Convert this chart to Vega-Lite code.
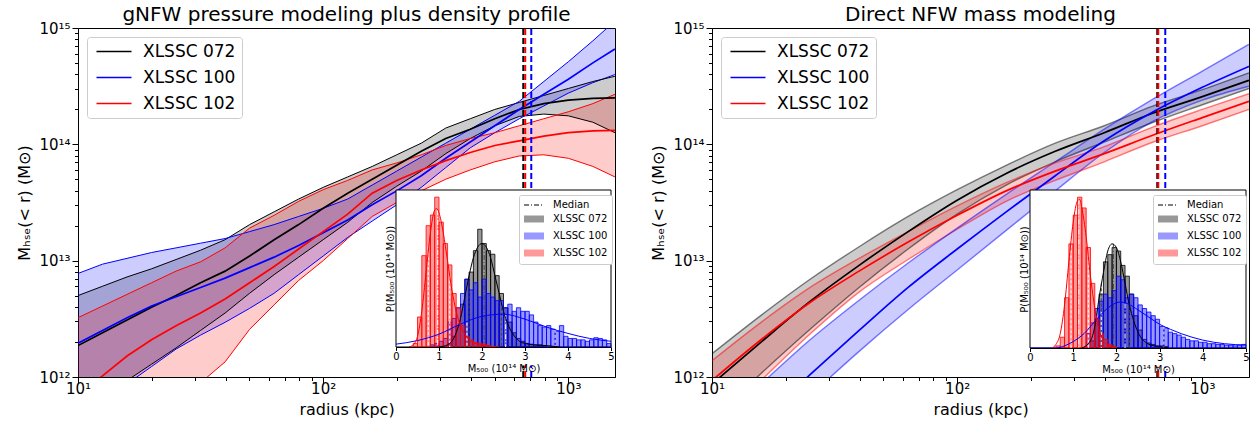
{
"$schema": "https://vega.github.io/schema/vega-lite/v6.json",
"background": "white",
"padding": {"left": 16, "right": 4, "top": 4, "bottom": 2},
"spacing": 34,
"config": {
 "font": "DejaVu Sans",
 "view": {"stroke": "black", "strokeWidth": 1},
 "axis": {"labelFont": "DejaVu Sans", "titleFont": "DejaVu Sans", "labelColor": "black", "titleColor": "black", "tickColor": "black", "domainColor": "black", "titleFontWeight": "normal", "grid": false},
 "legend": {"labelFont": "DejaVu Sans", "titleFont": "DejaVu Sans"},
 "title": {"font": "DejaVu Sans", "fontWeight": "normal", "color": "black"}
},
"datasets": {
 "gnfw": [
  {"c":"XLSSC 072","r":10,"lo":4.786e11,"m":1.862e12,"hi":5.012e12},
  {"c":"XLSSC 072","r":12.59,"lo":6.607e11,"m":2.399e12,"hi":6.026e12},
  {"c":"XLSSC 072","r":15.85,"lo":9.333e11,"m":3.090e12,"hi":7.244e12},
  {"c":"XLSSC 072","r":19.95,"lo":1.288e12,"m":3.981e12,"hi":8.511e12},
  {"c":"XLSSC 072","r":25.12,"lo":1.778e12,"m":5.012e12,"hi":1.023e13},
  {"c":"XLSSC 072","r":31.62,"lo":2.512e12,"m":6.457e12,"hi":1.230e13},
  {"c":"XLSSC 072","r":39.81,"lo":3.548e12,"m":8.128e12,"hi":1.514e13},
  {"c":"XLSSC 072","r":50.12,"lo":5.248e12,"m":1.096e13,"hi":2.042e13},
  {"c":"XLSSC 072","r":63.1,"lo":7.586e12,"m":1.514e13,"hi":2.630e13},
  {"c":"XLSSC 072","r":79.43,"lo":1.072e13,"m":2.042e13,"hi":3.388e13},
  {"c":"XLSSC 072","r":100,"lo":1.514e13,"m":2.818e13,"hi":4.266e13},
  {"c":"XLSSC 072","r":125.9,"lo":2.138e13,"m":3.802e13,"hi":5.248e13},
  {"c":"XLSSC 072","r":158.5,"lo":3.162e13,"m":5.012e13,"hi":6.457e13},
  {"c":"XLSSC 072","r":199.5,"lo":4.365e13,"m":6.607e13,"hi":8.128e13},
  {"c":"XLSSC 072","r":251.2,"lo":5.888e13,"m":8.710e13,"hi":1.023e14},
  {"c":"XLSSC 072","r":316.2,"lo":8.318e13,"m":1.122e14,"hi":1.380e14},
  {"c":"XLSSC 072","r":398.1,"lo":1.122e14,"m":1.349e14,"hi":1.660e14},
  {"c":"XLSSC 072","r":501.2,"lo":1.445e14,"m":1.660e14,"hi":1.995e14},
  {"c":"XLSSC 072","r":631,"lo":1.738e14,"m":1.995e14,"hi":2.291e14},
  {"c":"XLSSC 072","r":794.3,"lo":1.820e14,"m":2.239e14,"hi":2.630e14},
  {"c":"XLSSC 072","r":1000,"lo":1.758e14,"m":2.399e14,"hi":3.020e14},
  {"c":"XLSSC 072","r":1259,"lo":1.549e14,"m":2.483e14,"hi":3.467e14},
  {"c":"XLSSC 072","r":1549,"lo":1.259e14,"m":2.512e14,"hi":3.846e14},
  {"c":"XLSSC 100","r":10,"lo":4.169e11,"m":1.950e12,"hi":7.762e12},
  {"c":"XLSSC 100","r":12.59,"lo":6.026e11,"m":2.512e12,"hi":9.333e12},
  {"c":"XLSSC 100","r":15.85,"lo":8.710e11,"m":3.236e12,"hi":1.047e13},
  {"c":"XLSSC 100","r":19.95,"lo":1.230e12,"m":4.074e12,"hi":1.175e13},
  {"c":"XLSSC 100","r":25.12,"lo":1.738e12,"m":4.898e12,"hi":1.288e13},
  {"c":"XLSSC 100","r":31.62,"lo":2.291e12,"m":5.888e12,"hi":1.413e13},
  {"c":"XLSSC 100","r":39.81,"lo":2.951e12,"m":7.079e12,"hi":1.549e13},
  {"c":"XLSSC 100","r":50.12,"lo":3.890e12,"m":8.710e12,"hi":1.778e13},
  {"c":"XLSSC 100","r":63.1,"lo":5.248e12,"m":1.072e13,"hi":2.042e13},
  {"c":"XLSSC 100","r":79.43,"lo":7.586e12,"m":1.349e13,"hi":2.399e13},
  {"c":"XLSSC 100","r":100,"lo":1.096e13,"m":1.738e13,"hi":2.818e13},
  {"c":"XLSSC 100","r":125.9,"lo":1.585e13,"m":2.239e13,"hi":3.388e13},
  {"c":"XLSSC 100","r":158.5,"lo":2.188e13,"m":3.020e13,"hi":4.467e13},
  {"c":"XLSSC 100","r":199.5,"lo":3.020e13,"m":3.981e13,"hi":5.888e13},
  {"c":"XLSSC 100","r":251.2,"lo":4.266e13,"m":5.370e13,"hi":7.762e13},
  {"c":"XLSSC 100","r":316.2,"lo":6.310e13,"m":7.586e13,"hi":1.023e14},
  {"c":"XLSSC 100","r":398.1,"lo":9.333e13,"m":1.047e14,"hi":1.349e14},
  {"c":"XLSSC 100","r":501.2,"lo":1.259e14,"m":1.445e14,"hi":1.778e14},
  {"c":"XLSSC 100","r":631,"lo":1.660e14,"m":1.995e14,"hi":2.344e14},
  {"c":"XLSSC 100","r":794.3,"lo":2.138e14,"m":2.692e14,"hi":3.467e14},
  {"c":"XLSSC 100","r":1000,"lo":2.754e14,"m":3.631e14,"hi":5.129e14},
  {"c":"XLSSC 100","r":1259,"lo":3.388e14,"m":5.012e14,"hi":7.762e14},
  {"c":"XLSSC 100","r":1549,"lo":3.981e14,"m":6.607e14,"hi":1.148e15},
  {"c":"XLSSC 102","r":10,"lo":7.943e10,"m":7.244e11,"hi":3.236e12},
  {"c":"XLSSC 102","r":12.59,"lo":1.259e11,"m":1.023e12,"hi":4.074e12},
  {"c":"XLSSC 102","r":15.85,"lo":1.995e11,"m":1.514e12,"hi":5.129e12},
  {"c":"XLSSC 102","r":19.95,"lo":3.162e11,"m":2.089e12,"hi":6.457e12},
  {"c":"XLSSC 102","r":25.12,"lo":5.248e11,"m":2.754e12,"hi":8.128e12},
  {"c":"XLSSC 102","r":31.62,"lo":8.913e11,"m":3.548e12,"hi":9.772e12},
  {"c":"XLSSC 102","r":39.81,"lo":1.349e12,"m":4.677e12,"hi":1.288e13},
  {"c":"XLSSC 102","r":50.12,"lo":2.570e12,"m":6.457e12,"hi":1.905e13},
  {"c":"XLSSC 102","r":63.1,"lo":4.169e12,"m":8.913e12,"hi":2.455e13},
  {"c":"XLSSC 102","r":79.43,"lo":6.761e12,"m":1.259e13,"hi":3.236e13},
  {"c":"XLSSC 102","r":100,"lo":1.000e13,"m":1.778e13,"hi":4.074e13},
  {"c":"XLSSC 102","r":125.9,"lo":1.549e13,"m":2.512e13,"hi":4.898e13},
  {"c":"XLSSC 102","r":158.5,"lo":2.399e13,"m":3.802e13,"hi":6.026e13},
  {"c":"XLSSC 102","r":199.5,"lo":3.162e13,"m":4.898e13,"hi":6.918e13},
  {"c":"XLSSC 102","r":251.2,"lo":3.981e13,"m":6.026e13,"hi":8.128e13},
  {"c":"XLSSC 102","r":316.2,"lo":5.012e13,"m":7.244e13,"hi":9.772e13},
  {"c":"XLSSC 102","r":398.1,"lo":6.026e13,"m":8.511e13,"hi":1.122e14},
  {"c":"XLSSC 102","r":501.2,"lo":7.079e13,"m":9.772e13,"hi":1.259e14},
  {"c":"XLSSC 102","r":631,"lo":7.943e13,"m":1.072e14,"hi":1.445e14},
  {"c":"XLSSC 102","r":794.3,"lo":8.128e13,"m":1.175e14,"hi":1.660e14},
  {"c":"XLSSC 102","r":1000,"lo":7.586e13,"m":1.259e14,"hi":1.905e14},
  {"c":"XLSSC 102","r":1259,"lo":6.457e13,"m":1.303e14,"hi":2.239e14},
  {"c":"XLSSC 102","r":1549,"lo":5.248e13,"m":1.318e14,"hi":2.692e14}
 ],
 "nfw": [
  {"c":"XLSSC 072","r":10,"lo":4.365e11,"m":8.710e11,"hi":1.585e12},
  {"c":"XLSSC 072","r":15.85,"lo":1.072e12,"m":1.995e12,"hi":3.388e12},
  {"c":"XLSSC 072","r":25.12,"lo":2.570e12,"m":4.467e12,"hi":6.918e12},
  {"c":"XLSSC 072","r":39.81,"lo":5.888e12,"m":9.120e12,"hi":1.318e13},
  {"c":"XLSSC 072","r":63.1,"lo":1.259e13,"m":1.778e13,"hi":2.399e13},
  {"c":"XLSSC 072","r":100,"lo":2.512e13,"m":3.311e13,"hi":4.074e13},
  {"c":"XLSSC 072","r":158.5,"lo":4.467e13,"m":5.623e13,"hi":6.607e13},
  {"c":"XLSSC 072","r":251.2,"lo":7.079e13,"m":8.710e13,"hi":1.023e14},
  {"c":"XLSSC 072","r":398.1,"lo":1.047e14,"m":1.259e14,"hi":1.445e14},
  {"c":"XLSSC 072","r":631,"lo":1.549e14,"m":1.862e14,"hi":2.138e14},
  {"c":"XLSSC 072","r":1000,"lo":2.188e14,"m":2.570e14,"hi":2.951e14},
  {"c":"XLSSC 072","r":1549,"lo":3.020e14,"m":3.548e14,"hi":4.121e14},
  {"c":"XLSSC 100","r":10,"lo":1.122e11,"m":1.778e11,"hi":3.631e11},
  {"c":"XLSSC 100","r":15.85,"lo":2.818e11,"m":4.266e11,"hi":8.710e11},
  {"c":"XLSSC 100","r":25.12,"lo":6.918e11,"m":1.047e12,"hi":2.089e12},
  {"c":"XLSSC 100","r":39.81,"lo":1.660e12,"m":2.512e12,"hi":4.571e12},
  {"c":"XLSSC 100","r":63.1,"lo":3.802e12,"m":5.888e12,"hi":9.550e12},
  {"c":"XLSSC 100","r":100,"lo":8.318e12,"m":1.259e13,"hi":1.905e13},
  {"c":"XLSSC 100","r":158.5,"lo":1.820e13,"m":2.630e13,"hi":3.715e13},
  {"c":"XLSSC 100","r":251.2,"lo":3.981e13,"m":5.370e13,"hi":7.079e13},
  {"c":"XLSSC 100","r":398.1,"lo":8.511e13,"m":1.072e14,"hi":1.349e14},
  {"c":"XLSSC 100","r":631,"lo":1.585e14,"m":1.905e14,"hi":2.455e14},
  {"c":"XLSSC 100","r":1000,"lo":2.399e14,"m":3.090e14,"hi":4.266e14},
  {"c":"XLSSC 100","r":1549,"lo":3.162e14,"m":4.677e14,"hi":7.244e14},
  {"c":"XLSSC 102","r":10,"lo":3.548e11,"m":9.333e11,"hi":1.380e12},
  {"c":"XLSSC 102","r":15.85,"lo":9.333e11,"m":2.089e12,"hi":2.951e12},
  {"c":"XLSSC 102","r":25.12,"lo":2.344e12,"m":4.365e12,"hi":5.888e12},
  {"c":"XLSSC 102","r":39.81,"lo":5.370e12,"m":8.128e12,"hi":1.047e13},
  {"c":"XLSSC 102","r":63.1,"lo":1.023e13,"m":1.445e13,"hi":1.778e13},
  {"c":"XLSSC 102","r":100,"lo":1.862e13,"m":2.455e13,"hi":2.951e13},
  {"c":"XLSSC 102","r":158.5,"lo":3.236e13,"m":3.981e13,"hi":4.677e13},
  {"c":"XLSSC 102","r":251.2,"lo":4.898e13,"m":5.888e13,"hi":6.918e13},
  {"c":"XLSSC 102","r":398.1,"lo":7.079e13,"m":8.318e13,"hi":9.550e13},
  {"c":"XLSSC 102","r":631,"lo":1.047e14,"m":1.202e14,"hi":1.413e14},
  {"c":"XLSSC 102","r":1000,"lo":1.445e14,"m":1.698e14,"hi":1.995e14},
  {"c":"XLSSC 102","r":1549,"lo":1.995e14,"m":2.344e14,"hi":2.723e14}
 ],
 "r500L": [
  {"c":"XLSSC 072","r":655,"y":1e12},{"c":"XLSSC 072","r":655,"y":1e15},
  {"c":"XLSSC 102","r":667,"y":1e12},{"c":"XLSSC 102","r":667,"y":1e15},
  {"c":"XLSSC 100","r":706,"y":1e12},{"c":"XLSSC 100","r":706,"y":1e15}
 ],
 "r500R": [
  {"c":"XLSSC 072","r":655,"y":1e12},{"c":"XLSSC 072","r":655,"y":1e15},
  {"c":"XLSSC 102","r":661,"y":1e12},{"c":"XLSSC 102","r":661,"y":1e15},
  {"c":"XLSSC 100","r":706,"y":1e12},{"c":"XLSSC 100","r":706,"y":1e15}
 ],
 "frame": [
  {"a":0,"b":5,"d":2.2}
 ],
 "cover": [
  {"a":0,"b":5,"d":0,"e":-0.26}
 ],
 "histL": [
  {"c":"XLSSC 072","a":1.2,"b":1.3,"d":0.05},{"c":"XLSSC 072","a":1.3,"b":1.4,"d":0.15},{"c":"XLSSC 072","a":1.4,"b":1.5,"d":0.3},{"c":"XLSSC 072","a":1.5,"b":1.6,"d":0.6},{"c":"XLSSC 072","a":1.6,"b":1.7,"d":0.95},{"c":"XLSSC 072","a":1.7,"b":1.8,"d":1.05},{"c":"XLSSC 072","a":1.8,"b":1.9,"d":1.35},{"c":"XLSSC 072","a":1.9,"b":2.0,"d":1.65},{"c":"XLSSC 072","a":2.0,"b":2.1,"d":1.45},{"c":"XLSSC 072","a":2.1,"b":2.2,"d":1.35},{"c":"XLSSC 072","a":2.2,"b":2.3,"d":1.3},{"c":"XLSSC 072","a":2.3,"b":2.4,"d":1.0},{"c":"XLSSC 072","a":2.4,"b":2.5,"d":0.75},{"c":"XLSSC 072","a":2.5,"b":2.6,"d":0.55},{"c":"XLSSC 072","a":2.6,"b":2.7,"d":0.35},{"c":"XLSSC 072","a":2.7,"b":2.8,"d":0.2},{"c":"XLSSC 072","a":2.8,"b":2.9,"d":0.12},{"c":"XLSSC 072","a":2.9,"b":3.0,"d":0.08},{"c":"XLSSC 072","a":3.0,"b":3.1,"d":0.05},{"c":"XLSSC 072","a":3.1,"b":3.2,"d":0.04},{"c":"XLSSC 072","a":3.2,"b":3.3,"d":0.03},{"c":"XLSSC 072","a":3.3,"b":3.4,"d":0.03},{"c":"XLSSC 072","a":3.4,"b":3.5,"d":0.02},
  {"c":"XLSSC 100","a":0.8,"b":0.9,"d":0.03},{"c":"XLSSC 100","a":0.9,"b":1.0,"d":0.05},{"c":"XLSSC 100","a":1.0,"b":1.1,"d":0.08},{"c":"XLSSC 100","a":1.1,"b":1.2,"d":0.12},{"c":"XLSSC 100","a":1.2,"b":1.3,"d":0.35},{"c":"XLSSC 100","a":1.3,"b":1.4,"d":0.4},{"c":"XLSSC 100","a":1.4,"b":1.5,"d":0.55},{"c":"XLSSC 100","a":1.5,"b":1.6,"d":0.75},{"c":"XLSSC 100","a":1.6,"b":1.7,"d":0.95},{"c":"XLSSC 100","a":1.7,"b":1.8,"d":0.8},{"c":"XLSSC 100","a":1.8,"b":1.9,"d":0.9},{"c":"XLSSC 100","a":1.9,"b":2.0,"d":0.7},{"c":"XLSSC 100","a":2.0,"b":2.1,"d":0.95},{"c":"XLSSC 100","a":2.1,"b":2.2,"d":0.75},{"c":"XLSSC 100","a":2.2,"b":2.3,"d":0.7},{"c":"XLSSC 100","a":2.3,"b":2.4,"d":0.65},{"c":"XLSSC 100","a":2.4,"b":2.5,"d":0.65},{"c":"XLSSC 100","a":2.5,"b":2.6,"d":0.55},{"c":"XLSSC 100","a":2.6,"b":2.7,"d":0.6},{"c":"XLSSC 100","a":2.7,"b":2.8,"d":0.5},{"c":"XLSSC 100","a":2.8,"b":2.9,"d":0.55},{"c":"XLSSC 100","a":2.9,"b":3.0,"d":0.5},{"c":"XLSSC 100","a":3.0,"b":3.1,"d":0.5},{"c":"XLSSC 100","a":3.1,"b":3.2,"d":0.45},{"c":"XLSSC 100","a":3.2,"b":3.3,"d":0.35},{"c":"XLSSC 100","a":3.3,"b":3.4,"d":0.3},{"c":"XLSSC 100","a":3.4,"b":3.5,"d":0.28},{"c":"XLSSC 100","a":3.5,"b":3.6,"d":0.3},{"c":"XLSSC 100","a":3.6,"b":3.7,"d":0.25},{"c":"XLSSC 100","a":3.7,"b":3.8,"d":0.22},{"c":"XLSSC 100","a":3.8,"b":3.9,"d":0.3},{"c":"XLSSC 100","a":3.9,"b":4.0,"d":0.15},{"c":"XLSSC 100","a":4.0,"b":4.1,"d":0.12},{"c":"XLSSC 100","a":4.1,"b":4.2,"d":0.12},{"c":"XLSSC 100","a":4.2,"b":4.3,"d":0.1},{"c":"XLSSC 100","a":4.3,"b":4.4,"d":0.1},{"c":"XLSSC 100","a":4.4,"b":4.5,"d":0.08},{"c":"XLSSC 100","a":4.5,"b":4.6,"d":0.1},{"c":"XLSSC 100","a":4.6,"b":4.7,"d":0.13},{"c":"XLSSC 100","a":4.7,"b":4.8,"d":0.12},{"c":"XLSSC 100","a":4.8,"b":4.9,"d":0.1},{"c":"XLSSC 100","a":4.9,"b":5.0,"d":0.05},
  {"c":"XLSSC 102","a":0.4,"b":0.5,"d":0.05},{"c":"XLSSC 102","a":0.5,"b":0.6,"d":0.42},{"c":"XLSSC 102","a":0.6,"b":0.7,"d":1.28},{"c":"XLSSC 102","a":0.7,"b":0.8,"d":1.7},{"c":"XLSSC 102","a":0.8,"b":0.9,"d":1.85},{"c":"XLSSC 102","a":0.9,"b":1.0,"d":2.1},{"c":"XLSSC 102","a":1.0,"b":1.1,"d":1.75},{"c":"XLSSC 102","a":1.1,"b":1.2,"d":1.45},{"c":"XLSSC 102","a":1.2,"b":1.3,"d":1.15},{"c":"XLSSC 102","a":1.3,"b":1.4,"d":0.75},{"c":"XLSSC 102","a":1.4,"b":1.5,"d":0.55},{"c":"XLSSC 102","a":1.5,"b":1.6,"d":0.3},{"c":"XLSSC 102","a":1.6,"b":1.7,"d":0.15},{"c":"XLSSC 102","a":1.7,"b":1.8,"d":0.1},{"c":"XLSSC 102","a":1.8,"b":1.9,"d":0.06},{"c":"XLSSC 102","a":1.9,"b":2.0,"d":0.05},{"c":"XLSSC 102","a":2.0,"b":2.1,"d":0.04},{"c":"XLSSC 102","a":2.1,"b":2.2,"d":0.02}
 ],
 "histR": [
  {"c":"XLSSC 072","a":1.4,"b":1.5,"d":0.1},{"c":"XLSSC 072","a":1.5,"b":1.6,"d":0.4},{"c":"XLSSC 072","a":1.6,"b":1.7,"d":0.75},{"c":"XLSSC 072","a":1.7,"b":1.8,"d":1.2},{"c":"XLSSC 072","a":1.8,"b":1.9,"d":1.3},{"c":"XLSSC 072","a":1.9,"b":2.0,"d":1.4},{"c":"XLSSC 072","a":2.0,"b":2.1,"d":1.35},{"c":"XLSSC 072","a":2.1,"b":2.2,"d":1.15},{"c":"XLSSC 072","a":2.2,"b":2.3,"d":1.0},{"c":"XLSSC 072","a":2.3,"b":2.4,"d":0.75},{"c":"XLSSC 072","a":2.4,"b":2.5,"d":0.45},{"c":"XLSSC 072","a":2.5,"b":2.6,"d":0.25},{"c":"XLSSC 072","a":2.6,"b":2.7,"d":0.12},{"c":"XLSSC 072","a":2.7,"b":2.8,"d":0.07},{"c":"XLSSC 072","a":2.8,"b":2.9,"d":0.05},{"c":"XLSSC 072","a":2.9,"b":3.0,"d":0.03},{"c":"XLSSC 072","a":3.0,"b":3.1,"d":0.03},{"c":"XLSSC 072","a":3.1,"b":3.2,"d":0.02},
  {"c":"XLSSC 100","a":1.3,"b":1.4,"d":0.2},{"c":"XLSSC 100","a":1.4,"b":1.5,"d":0.35},{"c":"XLSSC 100","a":1.5,"b":1.6,"d":0.55},{"c":"XLSSC 100","a":1.6,"b":1.7,"d":0.65},{"c":"XLSSC 100","a":1.7,"b":1.8,"d":0.75},{"c":"XLSSC 100","a":1.8,"b":1.9,"d":0.7},{"c":"XLSSC 100","a":1.9,"b":2.0,"d":0.8},{"c":"XLSSC 100","a":2.0,"b":2.1,"d":1.0},{"c":"XLSSC 100","a":2.1,"b":2.2,"d":0.95},{"c":"XLSSC 100","a":2.2,"b":2.3,"d":0.7},{"c":"XLSSC 100","a":2.3,"b":2.4,"d":0.75},{"c":"XLSSC 100","a":2.4,"b":2.5,"d":0.7},{"c":"XLSSC 100","a":2.5,"b":2.6,"d":0.6},{"c":"XLSSC 100","a":2.6,"b":2.7,"d":0.55},{"c":"XLSSC 100","a":2.7,"b":2.8,"d":0.5},{"c":"XLSSC 100","a":2.8,"b":2.9,"d":0.45},{"c":"XLSSC 100","a":2.9,"b":3.0,"d":0.4},{"c":"XLSSC 100","a":3.0,"b":3.1,"d":0.3},{"c":"XLSSC 100","a":3.1,"b":3.2,"d":0.28},{"c":"XLSSC 100","a":3.2,"b":3.3,"d":0.22},{"c":"XLSSC 100","a":3.3,"b":3.4,"d":0.2},{"c":"XLSSC 100","a":3.4,"b":3.5,"d":0.18},{"c":"XLSSC 100","a":3.5,"b":3.6,"d":0.15},{"c":"XLSSC 100","a":3.6,"b":3.7,"d":0.12},{"c":"XLSSC 100","a":3.7,"b":3.8,"d":0.1},{"c":"XLSSC 100","a":3.8,"b":3.9,"d":0.1},{"c":"XLSSC 100","a":3.9,"b":4.0,"d":0.08},{"c":"XLSSC 100","a":4.0,"b":4.1,"d":0.08},{"c":"XLSSC 100","a":4.1,"b":4.2,"d":0.06},{"c":"XLSSC 100","a":4.2,"b":4.3,"d":0.06},{"c":"XLSSC 100","a":4.3,"b":4.4,"d":0.05},{"c":"XLSSC 100","a":4.4,"b":4.5,"d":0.05},{"c":"XLSSC 100","a":4.5,"b":4.6,"d":0.04},{"c":"XLSSC 100","a":4.6,"b":4.7,"d":0.04},{"c":"XLSSC 100","a":4.7,"b":4.8,"d":0.03},{"c":"XLSSC 100","a":4.8,"b":4.9,"d":0.04},{"c":"XLSSC 100","a":4.9,"b":5.0,"d":0.05},
  {"c":"XLSSC 102","a":0.6,"b":0.7,"d":0.03},{"c":"XLSSC 102","a":0.7,"b":0.8,"d":0.15},{"c":"XLSSC 102","a":0.8,"b":0.9,"d":0.7},{"c":"XLSSC 102","a":0.9,"b":1.0,"d":1.45},{"c":"XLSSC 102","a":1.0,"b":1.1,"d":1.85},{"c":"XLSSC 102","a":1.1,"b":1.2,"d":2.1},{"c":"XLSSC 102","a":1.2,"b":1.3,"d":1.95},{"c":"XLSSC 102","a":1.3,"b":1.4,"d":1.4},{"c":"XLSSC 102","a":1.4,"b":1.5,"d":0.9},{"c":"XLSSC 102","a":1.5,"b":1.6,"d":0.4},{"c":"XLSSC 102","a":1.6,"b":1.7,"d":0.2},{"c":"XLSSC 102","a":1.7,"b":1.8,"d":0.12},{"c":"XLSSC 102","a":1.8,"b":1.9,"d":0.05},{"c":"XLSSC 102","a":1.9,"b":2.0,"d":0.02}
 ],
 "curveL": [
  {"c":"XLSSC 072","a":1.0,"d":0.0},{"c":"XLSSC 072","a":1.2,"d":0.03},{"c":"XLSSC 072","a":1.4,"d":0.2},{"c":"XLSSC 072","a":1.5,"d":0.4},{"c":"XLSSC 072","a":1.6,"d":0.7},{"c":"XLSSC 072","a":1.7,"d":1.0},{"c":"XLSSC 072","a":1.8,"d":1.25},{"c":"XLSSC 072","a":1.9,"d":1.4},{"c":"XLSSC 072","a":2.0,"d":1.45},{"c":"XLSSC 072","a":2.1,"d":1.4},{"c":"XLSSC 072","a":2.2,"d":1.25},{"c":"XLSSC 072","a":2.3,"d":1.0},{"c":"XLSSC 072","a":2.4,"d":0.75},{"c":"XLSSC 072","a":2.5,"d":0.5},{"c":"XLSSC 072","a":2.6,"d":0.32},{"c":"XLSSC 072","a":2.7,"d":0.2},{"c":"XLSSC 072","a":2.8,"d":0.12},{"c":"XLSSC 072","a":2.9,"d":0.07},{"c":"XLSSC 072","a":3.0,"d":0.05},{"c":"XLSSC 072","a":3.2,"d":0.03},{"c":"XLSSC 072","a":3.5,"d":0.02},{"c":"XLSSC 072","a":3.8,"d":0.0},
  {"c":"XLSSC 100","a":0.0,"d":0.04},{"c":"XLSSC 100","a":0.5,"d":0.09},{"c":"XLSSC 100","a":1.0,"d":0.18},{"c":"XLSSC 100","a":1.5,"d":0.32},{"c":"XLSSC 100","a":2.0,"d":0.43},{"c":"XLSSC 100","a":2.5,"d":0.46},{"c":"XLSSC 100","a":3.0,"d":0.39},{"c":"XLSSC 100","a":3.5,"d":0.28},{"c":"XLSSC 100","a":4.0,"d":0.19},{"c":"XLSSC 100","a":4.5,"d":0.12},{"c":"XLSSC 100","a":5.0,"d":0.08},
  {"c":"XLSSC 102","a":0.3,"d":0.0},{"c":"XLSSC 102","a":0.4,"d":0.03},{"c":"XLSSC 102","a":0.5,"d":0.15},{"c":"XLSSC 102","a":0.6,"d":0.5},{"c":"XLSSC 102","a":0.7,"d":1.05},{"c":"XLSSC 102","a":0.8,"d":1.6},{"c":"XLSSC 102","a":0.9,"d":1.92},{"c":"XLSSC 102","a":0.95,"d":1.94},{"c":"XLSSC 102","a":1.0,"d":1.88},{"c":"XLSSC 102","a":1.1,"d":1.6},{"c":"XLSSC 102","a":1.2,"d":1.2},{"c":"XLSSC 102","a":1.3,"d":0.8},{"c":"XLSSC 102","a":1.4,"d":0.5},{"c":"XLSSC 102","a":1.5,"d":0.3},{"c":"XLSSC 102","a":1.6,"d":0.18},{"c":"XLSSC 102","a":1.7,"d":0.1},{"c":"XLSSC 102","a":1.8,"d":0.06},{"c":"XLSSC 102","a":1.9,"d":0.04},{"c":"XLSSC 102","a":2.0,"d":0.03},{"c":"XLSSC 102","a":2.2,"d":0.01},{"c":"XLSSC 102","a":2.4,"d":0.0}
 ],
 "curveR": [
  {"c":"XLSSC 072","a":1.2,"d":0.0},{"c":"XLSSC 072","a":1.4,"d":0.1},{"c":"XLSSC 072","a":1.5,"d":0.3},{"c":"XLSSC 072","a":1.6,"d":0.7},{"c":"XLSSC 072","a":1.7,"d":1.05},{"c":"XLSSC 072","a":1.8,"d":1.35},{"c":"XLSSC 072","a":1.9,"d":1.45},{"c":"XLSSC 072","a":2.0,"d":1.4},{"c":"XLSSC 072","a":2.1,"d":1.2},{"c":"XLSSC 072","a":2.2,"d":0.9},{"c":"XLSSC 072","a":2.3,"d":0.6},{"c":"XLSSC 072","a":2.4,"d":0.38},{"c":"XLSSC 072","a":2.5,"d":0.22},{"c":"XLSSC 072","a":2.6,"d":0.12},{"c":"XLSSC 072","a":2.7,"d":0.07},{"c":"XLSSC 072","a":2.8,"d":0.04},{"c":"XLSSC 072","a":3.0,"d":0.02},{"c":"XLSSC 072","a":3.2,"d":0.0},
  {"c":"XLSSC 100","a":0.0,"d":0.0},{"c":"XLSSC 100","a":0.6,"d":0.0},{"c":"XLSSC 100","a":0.8,"d":0.03},{"c":"XLSSC 100","a":1.0,"d":0.09},{"c":"XLSSC 100","a":1.25,"d":0.2},{"c":"XLSSC 100","a":1.5,"d":0.37},{"c":"XLSSC 100","a":1.75,"d":0.53},{"c":"XLSSC 100","a":2.0,"d":0.63},{"c":"XLSSC 100","a":2.1,"d":0.64},{"c":"XLSSC 100","a":2.25,"d":0.62},{"c":"XLSSC 100","a":2.5,"d":0.53},{"c":"XLSSC 100","a":2.75,"d":0.43},{"c":"XLSSC 100","a":3.0,"d":0.33},{"c":"XLSSC 100","a":3.25,"d":0.26},{"c":"XLSSC 100","a":3.5,"d":0.2},{"c":"XLSSC 100","a":3.75,"d":0.15},{"c":"XLSSC 100","a":4.0,"d":0.11},{"c":"XLSSC 100","a":4.5,"d":0.06},{"c":"XLSSC 100","a":5.0,"d":0.04},
  {"c":"XLSSC 102","a":0.5,"d":0.0},{"c":"XLSSC 102","a":0.6,"d":0.05},{"c":"XLSSC 102","a":0.7,"d":0.2},{"c":"XLSSC 102","a":0.8,"d":0.6},{"c":"XLSSC 102","a":0.9,"d":1.2},{"c":"XLSSC 102","a":1.0,"d":1.75},{"c":"XLSSC 102","a":1.1,"d":2.05},{"c":"XLSSC 102","a":1.15,"d":2.07},{"c":"XLSSC 102","a":1.2,"d":1.95},{"c":"XLSSC 102","a":1.3,"d":1.55},{"c":"XLSSC 102","a":1.4,"d":1.0},{"c":"XLSSC 102","a":1.5,"d":0.55},{"c":"XLSSC 102","a":1.6,"d":0.25},{"c":"XLSSC 102","a":1.7,"d":0.1},{"c":"XLSSC 102","a":1.8,"d":0.04},{"c":"XLSSC 102","a":1.9,"d":0.01},{"c":"XLSSC 102","a":2.0,"d":0.0}
 ],
 "statL": [
  {"c":"XLSSC 072","k":"median","a":2.05,"d":1.43},{"c":"XLSSC 072","k":"pct","a":1.7,"d":1.0},{"c":"XLSSC 072","k":"pct","a":2.45,"d":0.62},
  {"c":"XLSSC 100","k":"median","a":2.55,"d":0.46},{"c":"XLSSC 100","k":"pct","a":1.65,"d":0.34},{"c":"XLSSC 100","k":"pct","a":3.7,"d":0.24},
  {"c":"XLSSC 102","k":"median","a":0.97,"d":1.92},{"c":"XLSSC 102","k":"pct","a":0.75,"d":1.4},{"c":"XLSSC 102","k":"pct","a":1.25,"d":1.0}
 ],
 "statR": [
  {"c":"XLSSC 072","k":"median","a":1.93,"d":1.45},{"c":"XLSSC 072","k":"pct","a":1.65,"d":0.9},{"c":"XLSSC 072","k":"pct","a":2.3,"d":0.6},
  {"c":"XLSSC 100","k":"median","a":2.2,"d":0.62},{"c":"XLSSC 100","k":"pct","a":1.65,"d":0.5},{"c":"XLSSC 100","k":"pct","a":3.1,"d":0.3},
  {"c":"XLSSC 102","k":"median","a":1.13,"d":2.07},{"c":"XLSSC 102","k":"pct","a":0.95,"d":1.5},{"c":"XLSSC 102","k":"pct","a":1.35,"d":1.3}
 ]
},
"hconcat": [
 {
  "width": 537, "height": 349,
  "title": {"text": "gNFW pressure modeling plus density profile", "fontSize": 20, "offset": -4},
  "resolve": {"scale": {"x": "independent", "y": "independent"}, "axis": {"x": "independent", "y": "independent"}},
  "layer": [
   {
    "data": {"name": "gnfw"},
    "encoding": {"x": {"field": "r", "type": "quantitative", "scale": {"type": "log", "domain": [10, 1550], "nice": false}, "title": "radius (kpc)",
      "axis": {"orient": "bottom", "values": [10,20,30,40,50,60,70,80,90,100,200,300,400,500,600,700,800,900,1000], "labelExpr": "datum.value == 10 ? '10¹' : datum.value == 100 ? '10²' : datum.value == 1000 ? '10³' : ''", "labelFontSize": 15, "labelOverlap": false, "labelFlush": false, "labelPadding": -2, "titleFontSize": 16, "titlePadding": 5, "tickSize": {"condition": {"test": "datum.value == 10 || datum.value == 100 || datum.value == 1000", "value": 6}, "value": 3.5}}}},
    "layer": [
     {"mark": {"type": "area", "opacity": 0.2, "clip": true},
      "encoding": {"y": {"field": "lo", "type": "quantitative", "scale": {"type": "log", "domain": [1e12, 1e15], "nice": false}, "title": "Mₕₛₑ(< r) (M⊙)",
        "axis": {"orient": "left", "values": [1e12,2e12,3e12,4e12,5e12,6e12,7e12,8e12,9e12,1e13,2e13,3e13,4e13,5e13,6e13,7e13,8e13,9e13,1e14,2e14,3e14,4e14,5e14,6e14,7e14,8e14,9e14,1e15], "labelExpr": "datum.value == 1e12 ? '10¹²' : datum.value == 1e13 ? '10¹³' : datum.value == 1e14 ? '10¹⁴' : datum.value == 1e15 ? '10¹⁵' : ''", "labelFontSize": 15, "labelOverlap": false, "labelFlush": false, "titleFontSize": 16, "titlePadding": 6, "tickSize": {"condition": {"test": "datum.value == 1e12 || datum.value == 1e13 || datum.value == 1e14 || datum.value == 1e15", "value": 6}, "value": 3.5}}},
       "y2": {"field": "hi"},
       "detail": {"field": "c"},
       "color": {"condition": [{"test": "datum.c === 'XLSSC 100'", "value": "blue"}, {"test": "datum.c === 'XLSSC 102'", "value": "red"}], "value": "black"}}},
     {"mark": {"type": "line", "strokeWidth": 1, "clip": true},
      "encoding": {"y": {"field": "lo", "type": "quantitative", "scale": {"type": "log", "domain": [1e12, 1e15], "nice": false}},
       "detail": {"field": "c"},
       "color": {"condition": [{"test": "datum.c === 'XLSSC 100'", "value": "blue"}, {"test": "datum.c === 'XLSSC 102'", "value": "red"}], "value": "black"}}},
     {"mark": {"type": "line", "strokeWidth": 1, "clip": true},
      "encoding": {"y": {"field": "hi", "type": "quantitative", "scale": {"type": "log", "domain": [1e12, 1e15], "nice": false}},
       "detail": {"field": "c"},
       "color": {"condition": [{"test": "datum.c === 'XLSSC 100'", "value": "blue"}, {"test": "datum.c === 'XLSSC 102'", "value": "red"}], "value": "black"}}},
     {"mark": {"type": "line", "strokeWidth": 1.7, "clip": true},
      "encoding": {"y": {"field": "m", "type": "quantitative", "scale": {"type": "log", "domain": [1e12, 1e15], "nice": false}},
       "color": {"field": "c", "type": "nominal", "scale": {"domain": ["XLSSC 072", "XLSSC 100", "XLSSC 102"], "range": ["black", "blue", "red"]},
        "legend": {"orient": "top-left", "offset": 9, "title": null, "symbolType": "M-1,0H6", "symbolSize": 100, "symbolStrokeWidth": 1.5, "labelFontSize": 17, "labelOffset": 33, "padding": 6, "rowPadding": 8, "strokeColor": "#cccccc", "fillColor": "rgba(255,255,255,0.8)", "cornerRadius": 3, "labelColor": "black", "symbolOpacity": 1}}}},
     {"data": {"name": "r500L"}, "mark": {"type": "line", "strokeWidth": 2, "strokeDash": [6, 3], "clip": true},
      "encoding": {"y": {"field": "y", "type": "quantitative", "scale": {"type": "log", "domain": [1e12, 1e15], "nice": false}},
       "detail": {"field": "c"},
       "color": {"condition": [{"test": "datum.c === 'XLSSC 100'", "value": "blue"}, {"test": "datum.c === 'XLSSC 102'", "value": "red"}], "value": "black"}}}
    ]
   },
   {
    "encoding": {
     "x": {"field": "a", "type": "quantitative", "scale": {"domain": [0, 5], "range": [318, 533], "nice": false, "zero": false}, "title": "M₅₀₀ (10¹⁴ M⊙)",
      "axis": {"orient": "bottom", "offset": -30, "zindex": 1, "values": [0,1,2,3,4,5], "format": "d", "labelFontSize": 10, "labelFlush": false, "labelPadding": 1, "tickSize": 3.5, "titleFontSize": 10, "titlePadding": 2}},
     "y": {"field": "d", "type": "quantitative", "scale": {"domain": [0, 2.2], "range": [319, 162], "nice": false}, "title": "P(M₅₀₀ (10¹⁴ M⊙))",
      "axis": {"orient": "left", "offset": -318, "zindex": 1, "ticks": false, "labels": false, "domain": false, "titleFontSize": 10, "titlePadding": 1}}
    },
    "layer": [
     {"data": {"name": "cover"}, "mark": {"type": "rect", "fill": "white", "opacity": 1},
      "encoding": {"x2": {"field": "b"}, "y2": {"field": "e"}}},
     {"data": {"name": "frame"}, "mark": {"type": "rect", "fill": "white", "stroke": "black", "strokeWidth": 1, "opacity": 1},
      "encoding": {"x2": {"field": "b"}, "y2": {"datum": 0}}},
     {"data": {"name": "histL"}, "mark": {"type": "rect", "opacity": 1, "fillOpacity": 0.4, "strokeWidth": 0.8},
      "encoding": {"x2": {"field": "b"}, "y2": {"datum": 0},
       "fill": {"field": "c", "type": "nominal", "scale": {"domain": ["XLSSC 072", "XLSSC 100", "XLSSC 102"], "range": ["black", "blue", "red"]},
        "legend": {"orient": "none", "legendX": 441, "legendY": 167, "zindex": 1, "title": " ", "titleFontSize": 10, "titlePadding": 4, "symbolType": "M-1,-0.7H3V0.7H-1Z", "symbolSize": 100, "labelFontSize": 10, "labelOffset": 18, "padding": 4, "rowPadding": 3, "strokeColor": "#cccccc", "fillColor": "white", "cornerRadius": 2, "labelColor": "black", "symbolOpacity": 0.4, "symbolStrokeColor": "transparent"}},
       "stroke": {"condition": [{"test": "datum.c === 'XLSSC 100'", "value": "blue"}, {"test": "datum.c === 'XLSSC 102'", "value": "red"}], "value": "black"}}},
     {"data": {"name": "statL"}, "mark": {"type": "rule", "strokeWidth": 1},
      "encoding": {"y2": {"datum": 0},
       "strokeDash": {"field": "k", "type": "nominal", "scale": {"domain": ["median", "pct"], "range": [[5, 2, 1, 2], [3, 2]]},
        "legend": {"orient": "none", "legendX": 441, "legendY": 167, "zindex": 2, "values": ["median"], "labelExpr": "'Median'", "title": null, "symbolType": "M-1,0H3", "symbolSize": 100, "symbolStrokeColor": "black", "symbolStrokeWidth": 1.2, "labelFontSize": 10, "labelOffset": 18, "padding": 4, "labelColor": "black"}},
       "stroke": {"condition": {"test": "datum.c === 'XLSSC 072'", "value": "#444444"}, "value": "white"}}},
     {"data": {"name": "curveL"}, "mark": {"type": "line", "strokeWidth": 1, "interpolate": "monotone"},
      "encoding": {"detail": {"field": "c"},
       "stroke": {"condition": [{"test": "datum.c === 'XLSSC 100'", "value": "blue"}, {"test": "datum.c === 'XLSSC 102'", "value": "red"}], "value": "black"}}}
    ]
   }
  ]
 },
 {
  "width": 537, "height": 349,
  "title": {"text": "Direct NFW mass modeling", "fontSize": 20, "offset": -4},
  "resolve": {"scale": {"x": "independent", "y": "independent"}, "axis": {"x": "independent", "y": "independent"}},
  "layer": [
   {
    "data": {"name": "nfw"},
    "encoding": {"x": {"field": "r", "type": "quantitative", "scale": {"type": "log", "domain": [10, 1550], "nice": false}, "title": "radius (kpc)",
      "axis": {"orient": "bottom", "values": [10,20,30,40,50,60,70,80,90,100,200,300,400,500,600,700,800,900,1000], "labelExpr": "datum.value == 10 ? '10¹' : datum.value == 100 ? '10²' : datum.value == 1000 ? '10³' : ''", "labelFontSize": 15, "labelOverlap": false, "labelFlush": false, "labelPadding": -2, "titleFontSize": 16, "titlePadding": 5, "tickSize": {"condition": {"test": "datum.value == 10 || datum.value == 100 || datum.value == 1000", "value": 6}, "value": 3.5}}}},
    "layer": [
     {"mark": {"type": "area", "opacity": 0.2, "clip": true, "interpolate": "monotone"},
      "encoding": {"y": {"field": "lo", "type": "quantitative", "scale": {"type": "log", "domain": [1e12, 1e15], "nice": false}, "title": "Mₕₛₑ(< r) (M⊙)",
        "axis": {"orient": "left", "values": [1e12,2e12,3e12,4e12,5e12,6e12,7e12,8e12,9e12,1e13,2e13,3e13,4e13,5e13,6e13,7e13,8e13,9e13,1e14,2e14,3e14,4e14,5e14,6e14,7e14,8e14,9e14,1e15], "labelExpr": "datum.value == 1e12 ? '10¹²' : datum.value == 1e13 ? '10¹³' : datum.value == 1e14 ? '10¹⁴' : datum.value == 1e15 ? '10¹⁵' : ''", "labelFontSize": 15, "labelOverlap": false, "labelFlush": false, "titleFontSize": 16, "titlePadding": 6, "tickSize": {"condition": {"test": "datum.value == 1e12 || datum.value == 1e13 || datum.value == 1e14 || datum.value == 1e15", "value": 6}, "value": 3.5}}},
       "y2": {"field": "hi"},
       "detail": {"field": "c"},
       "color": {"condition": [{"test": "datum.c === 'XLSSC 100'", "value": "blue"}, {"test": "datum.c === 'XLSSC 102'", "value": "red"}], "value": "black"}}},
     {"mark": {"type": "line", "strokeWidth": 1.4, "strokeOpacity": 0.5, "clip": true, "interpolate": "monotone"},
      "encoding": {"y": {"field": "lo", "type": "quantitative", "scale": {"type": "log", "domain": [1e12, 1e15], "nice": false}},
       "detail": {"field": "c"},
       "color": {"condition": [{"test": "datum.c === 'XLSSC 100'", "value": "blue"}, {"test": "datum.c === 'XLSSC 102'", "value": "red"}], "value": "black"}}},
     {"mark": {"type": "line", "strokeWidth": 1.4, "strokeOpacity": 0.5, "clip": true, "interpolate": "monotone"},
      "encoding": {"y": {"field": "hi", "type": "quantitative", "scale": {"type": "log", "domain": [1e12, 1e15], "nice": false}},
       "detail": {"field": "c"},
       "color": {"condition": [{"test": "datum.c === 'XLSSC 100'", "value": "blue"}, {"test": "datum.c === 'XLSSC 102'", "value": "red"}], "value": "black"}}},
     {"mark": {"type": "line", "strokeWidth": 1.7, "clip": true, "interpolate": "monotone"},
      "encoding": {"y": {"field": "m", "type": "quantitative", "scale": {"type": "log", "domain": [1e12, 1e15], "nice": false}},
       "color": {"field": "c", "type": "nominal", "scale": {"domain": ["XLSSC 072", "XLSSC 100", "XLSSC 102"], "range": ["black", "blue", "red"]},
        "legend": {"orient": "top-left", "offset": 9, "title": null, "symbolType": "M-1,0H6", "symbolSize": 100, "symbolStrokeWidth": 1.5, "labelFontSize": 17, "labelOffset": 33, "padding": 6, "rowPadding": 8, "strokeColor": "#cccccc", "fillColor": "rgba(255,255,255,0.8)", "cornerRadius": 3, "labelColor": "black", "symbolOpacity": 1}}}},
     {"data": {"name": "r500R"}, "mark": {"type": "line", "strokeWidth": 2, "strokeDash": [6, 3], "clip": true},
      "encoding": {"y": {"field": "y", "type": "quantitative", "scale": {"type": "log", "domain": [1e12, 1e15], "nice": false}},
       "detail": {"field": "c"},
       "color": {"condition": [{"test": "datum.c === 'XLSSC 100'", "value": "blue"}, {"test": "datum.c === 'XLSSC 102'", "value": "red"}], "value": "black"}}}
    ]
   },
   {
    "encoding": {
     "x": {"field": "a", "type": "quantitative", "scale": {"domain": [0, 5], "range": [318, 534], "nice": false, "zero": false}, "title": "M₅₀₀ (10¹⁴ M⊙)",
      "axis": {"orient": "bottom", "offset": -29, "zindex": 1, "values": [0,1,2,3,4,5], "format": "d", "labelFontSize": 10, "labelFlush": false, "labelPadding": 1, "tickSize": 3.5, "titleFontSize": 10, "titlePadding": 2}},
     "y": {"field": "d", "type": "quantitative", "scale": {"domain": [0, 2.2], "range": [320, 162], "nice": false}, "title": "P(M₅₀₀ (10¹⁴ M⊙))",
      "axis": {"orient": "left", "offset": -318, "zindex": 1, "ticks": false, "labels": false, "domain": false, "titleFontSize": 10, "titlePadding": 1}}
    },
    "layer": [
     {"data": {"name": "cover"}, "mark": {"type": "rect", "fill": "white", "opacity": 1},
      "encoding": {"x2": {"field": "b"}, "y2": {"field": "e"}}},
     {"data": {"name": "frame"}, "mark": {"type": "rect", "fill": "white", "stroke": "black", "strokeWidth": 1, "opacity": 1},
      "encoding": {"x2": {"field": "b"}, "y2": {"datum": 0}}},
     {"data": {"name": "histR"}, "mark": {"type": "rect", "opacity": 1, "fillOpacity": 0.4, "strokeWidth": 0.8},
      "encoding": {"x2": {"field": "b"}, "y2": {"datum": 0},
       "fill": {"field": "c", "type": "nominal", "scale": {"domain": ["XLSSC 072", "XLSSC 100", "XLSSC 102"], "range": ["black", "blue", "red"]},
        "legend": {"orient": "none", "legendX": 441, "legendY": 167, "zindex": 1, "title": " ", "titleFontSize": 10, "titlePadding": 4, "symbolType": "M-1,-0.7H3V0.7H-1Z", "symbolSize": 100, "labelFontSize": 10, "labelOffset": 18, "padding": 4, "rowPadding": 3, "strokeColor": "#cccccc", "fillColor": "white", "cornerRadius": 2, "labelColor": "black", "symbolOpacity": 0.4, "symbolStrokeColor": "transparent"}},
       "stroke": {"condition": [{"test": "datum.c === 'XLSSC 100'", "value": "blue"}, {"test": "datum.c === 'XLSSC 102'", "value": "red"}], "value": "black"}}},
     {"data": {"name": "statR"}, "mark": {"type": "rule", "strokeWidth": 1},
      "encoding": {"y2": {"datum": 0},
       "strokeDash": {"field": "k", "type": "nominal", "scale": {"domain": ["median", "pct"], "range": [[5, 2, 1, 2], [3, 2]]},
        "legend": {"orient": "none", "legendX": 441, "legendY": 167, "zindex": 2, "values": ["median"], "labelExpr": "'Median'", "title": null, "symbolType": "M-1,0H3", "symbolSize": 100, "symbolStrokeColor": "black", "symbolStrokeWidth": 1.2, "labelFontSize": 10, "labelOffset": 18, "padding": 4, "labelColor": "black"}},
       "stroke": {"condition": {"test": "datum.c === 'XLSSC 072'", "value": "#444444"}, "value": "white"}}},
     {"data": {"name": "curveR"}, "mark": {"type": "line", "strokeWidth": 1, "interpolate": "monotone"},
      "encoding": {"detail": {"field": "c"},
       "stroke": {"condition": [{"test": "datum.c === 'XLSSC 100'", "value": "blue"}, {"test": "datum.c === 'XLSSC 102'", "value": "red"}], "value": "black"}}}
    ]
   }
  ]
 }
],
"resolve": {"scale": {"color": "independent", "fill": "independent", "strokeDash": "independent"}, "legend": {"color": "independent", "fill": "independent", "strokeDash": "independent"}}
}
